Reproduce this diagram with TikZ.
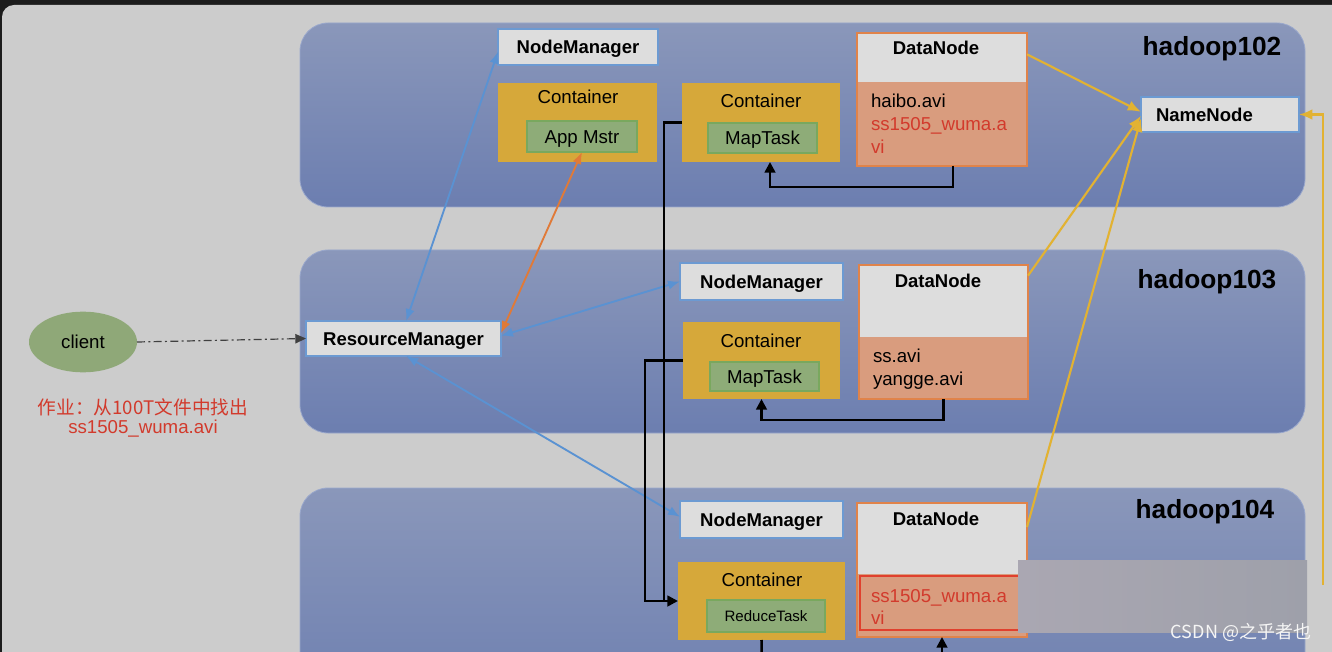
\documentclass[tikz,border=0pt]{standalone}
\usepackage{fontspec}
\setmainfont{Liberation Sans}
\newfontfamily\cjk{Noto Sans CJK SC}
\usetikzlibrary{arrows.meta,fit,shapes.geometric}
\definecolor{bgray}{HTML}{CCCCCC}
\definecolor{frame}{HTML}{1C1C1C}
\definecolor{paneltop}{HTML}{8A97BA}
\definecolor{panelbot}{HTML}{6C7EB0}
\definecolor{panelline}{HTML}{9AA8CC}
\definecolor{boxw}{HTML}{DDDDDD}
\definecolor{boxb}{HTML}{6C9AD2}
\definecolor{gold}{HTML}{D6A83A}
\definecolor{goldline}{HTML}{E2B232}
\definecolor{grn}{HTML}{8EAC78}
\definecolor{grnb}{HTML}{79A85E}
\definecolor{dnb}{HTML}{E0834A}
\definecolor{dnfill}{HTML}{D99C7E}
\definecolor{redt}{HTML}{D23A2C}
\definecolor{hired}{HTML}{E0402E}
\definecolor{bluea}{HTML}{5A92D2}
\definecolor{orga}{HTML}{E07A38}
\definecolor{ellg}{HTML}{8FA878}
\begin{document}
\begin{tikzpicture}[x=0.75pt,y=-0.75pt,
  every node/.style={inner sep=0pt, outer sep=0pt},
  panel/.style={top color=paneltop, bottom color=panelbot, draw=panelline, line width=0.6pt, rounded corners=21pt},
  nmbox/.style={draw=boxb, fill=boxw, line width=1.1pt},
  contbox/.style={fill=gold},
  taskbox/.style={draw=grnb, fill=grn, line width=0.8pt},
  dnframe/.style={draw=dnb, line width=1.3pt},
  txt/.style={font=\fontsize{14}{16}\selectfont},
  btxt/.style={font=\fontsize{13.9}{16}\selectfont\bfseries},
  htxt/.style={font=\fontsize{19.7}{22}\selectfont\bfseries},
  ftxt/.style={font=\fontsize{14}{16}\selectfont, anchor=base west},
  bluearr/.style={draw=bluea, line width=1.4pt, {Latex[length=9pt,width=7pt]}-{Latex[length=9pt,width=7pt]}},
  orgarr/.style={draw=orga, line width=1.4pt, {Latex[length=9pt,width=7pt]}-{Latex[length=9pt,width=7pt]}},
  goldarr/.style={draw=goldline, line width=1.6pt, -{Latex[length=10pt,width=8pt]}},
  blkline/.style={draw=black, line width=1.9pt},
  blkarr/.style={draw=black, line width=1.9pt, -{Triangle[length=8pt,width=8pt]}}
]
\useasboundingbox (0,0) rectangle (1332,652);
\clip (0,0) rectangle (1332,652);
\fill[frame] (0,0) rectangle (1332,652);
\fill[bgray, rounded corners=9pt] (2,5) rectangle (1380,720);

% panels
\path[panel] (300,23) rectangle (1305,207);
\path[panel] (300,250) rectangle (1305,433);
\path[panel] (300,488) rectangle (1305,720);

\node[htxt] (h2) at (1212,49) {hadoop102};
\node[htxt] (h3) at (1207,282) {hadoop103};
\node[htxt] (h4) at (1205,512) {hadoop104};

% hadoop102
\node (nm2) [nmbox, fit={(498,29) (658,65)}] {};
\node[btxt, anchor=base] (nm2t) at ([yshift=-5pt]nm2.center) {NodeManager};
\node (cam) [contbox, fit={(498,83) (657,162)}] {};
\node[txt] (camt) at (578,97) {Container};
\node (am) [taskbox, fit={(527,121) (637,152)}] {};
\node[txt, anchor=base] (amt) at ([yshift=-5pt]am.center) {App Mstr};
\node (cont2) [contbox, fit={(682,83) (840,162)}] {};
\node[txt] (cont2t) at (761,101) {Container};
\node (mt2) [taskbox, fit={(708,123) (817,153)}] {};
\node[txt, anchor=base] (mt2t) at ([yshift=-5pt]mt2.center) {MapTask};
\fill[boxw] (857,33) rectangle (1027,82);
\fill[dnfill] (857,82) rectangle (1027,166);
\node (dn2) [dnframe, fit={(857,33) (1027,166)}] {};
\node[btxt] (dn2t) at (936,48) {DataNode};
\node[ftxt] (f21) at (871,108) {haibo.avi};
\node[ftxt, text=redt] (f22) at (871,131) {ss1505\_wuma.a};
\node[ftxt, text=redt] (f23) at (871,154) {vi};
\node (nn) [nmbox, fit={(1141,97) (1299,132)}] {};
\node[btxt, anchor=base west] (nnt) at (1156,121.5) {NameNode};

% hadoop103
\node (rm) [nmbox, fit={(306,321) (501,356)}] {};
\node[btxt, anchor=base] (rmt) at ([yshift=-5pt]rm.center) {ResourceManager};
\node (nm3) [nmbox, fit={(680,263) (843,300)}] {};
\node[btxt, anchor=base] (nm3t) at ([yshift=-5pt]nm3.center) {NodeManager};
\node (cont3) [contbox, fit={(683,322) (840,399)}] {};
\node[txt] (cont3t) at (761,341) {Container};
\node (mt3) [taskbox, fit={(710,362) (819,391)}] {};
\node[txt, anchor=base] (mt3t) at ([yshift=-5pt]mt3.center) {MapTask};
\fill[boxw] (859,265) rectangle (1028,337);
\fill[dnfill] (859,337) rectangle (1028,399);
\node (dn3) [dnframe, fit={(859,265) (1028,399)}] {};
\node[btxt] (dn3t) at (938,281) {DataNode};
\node[ftxt] (f31) at (873,363) {ss.avi};
\node[ftxt] (f32) at (873,385) {yangge.avi};

% hadoop104
\node (nm4) [nmbox, fit={(680,501) (843,538)}] {};
\node[btxt, anchor=base] (nm4t) at ([yshift=-5pt]nm4.center) {NodeManager};
\node (cont4) [contbox, fit={(678,562) (845,640)}] {};
\node[txt] (cont4t) at (762,580) {Container};
\node (rt4) [taskbox, fit={(707,600) (825,632)}] {};
\node[font=\fontsize{11.3}{13}\selectfont, anchor=base] (rt4t) at ([yshift=-4pt]rt4.center) {ReduceTask};
\fill[boxw] (857,503) rectangle (1027,574);
\fill[dnfill] (857,574) rectangle (1027,637);
\node (dn4) [dnframe, fit={(857,503) (1027,637)}] {};
\draw[hired, line width=1.3pt] (860,576) rectangle (1024,630);
\node[btxt] (dn4t) at (936,519) {DataNode};
\node[ftxt, text=redt] (f41) at (871,602) {ss1505\_wuma.a};
\node[ftxt, text=redt] (f42) at (871,624) {vi};

% client
\node (cl) [ellipse, fill=ellg, minimum width=81pt, minimum height=45.5pt, txt] at (83,342) {client};
\node[txt, text=redt] (job1) at (143,407) {\cjk 作业：从100T文件中找出};
\node[txt, text=redt] (job2) at (143,429) {ss1505\_wuma.avi};

% connectors
\draw[draw=black!75, line width=0.9pt, dash pattern=on 6pt off 2.5pt on 1.5pt off 2.5pt, -{Triangle[length=8pt,width=7pt]}] (cl.east) -- (rm.west);
\draw[bluearr] ([xshift=2pt]rm.north) -- ([yshift=-3.5pt]nm2.west);
\draw[bluearr] ([yshift=2pt]rm.east) -- (nm3.west);
\draw[bluearr] ([xshift=2pt]rm.south) -- ([yshift=2pt]nm4.west);
\draw[orgarr] ([yshift=4pt]rm.east) -- (am.south);

\draw[goldarr] ([yshift=-16pt]dn2.north east) -- ([yshift=2pt]nn.west);
\draw[goldarr] ([yshift=-8pt]dn3.north east) -- ([yshift=-1pt]nn.west);
\draw[goldarr] ([yshift=-18pt]dn4.north east) -- ([yshift=-3pt]nn.west);
\coordinate (rc) at (1323,585);
\draw[goldarr] (rc) |- (nn.east);

\draw[blkarr] ([xshift=8.25pt]dn2.south) -- ++(0,21) -| ([xshift=6.75pt]cont2.south);
\draw[blkarr] (dn3.south) -- ++(0,21) -| (cont3.south);
\coordinate (ja) at (664,601);
\coordinate (jb) at (645,601);
\draw[blkline] (cont2.west) -| (ja);
\draw[blkarr] (cont3.west) -| (jb) -- (cont4.west);
\coordinate (b1) at (762,670);
\draw[blkline] (cont4.south) -- (b1);
\coordinate (b2) at (942,670);
\draw[blkarr] (b2) -- (dn4.south);

% screenshot overlay and watermark
\shade[left color={rgb,255:red,170;green,167;blue,178}, right color={rgb,255:red,158;green,160;blue,170}] (1018,560) rectangle (1307,632);
\node[font=\cjk\fontsize{13.5}{15}\selectfont, text=white!92!gray] (wm) at (1241,632) {CSDN @之乎者也};
\end{tikzpicture}
\end{document}
